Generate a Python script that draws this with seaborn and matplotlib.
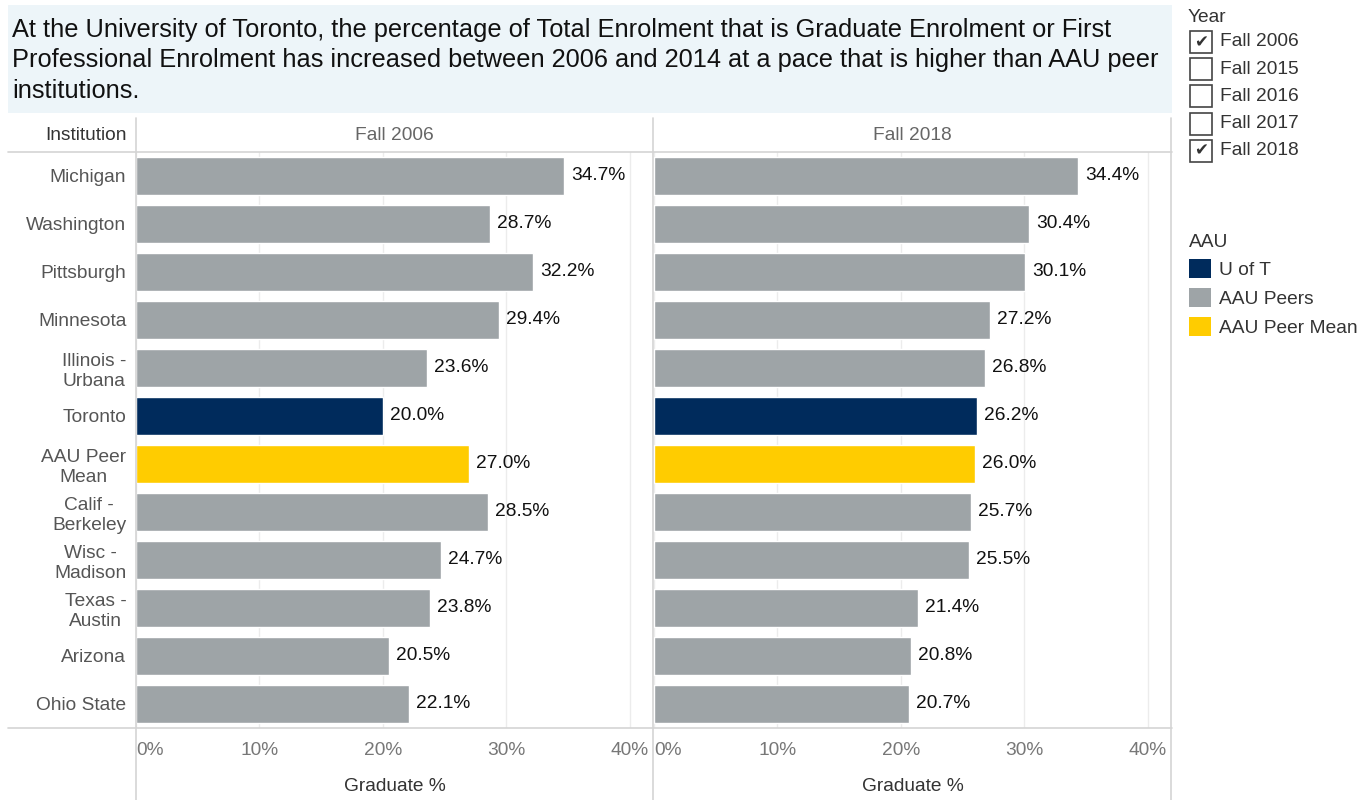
import pandas as pd
import matplotlib.pyplot as plt
import seaborn as sns
import matplotlib.ticker as mticker
from matplotlib.patches import Rectangle, Patch
from matplotlib.lines import Line2D

institutions = ["Michigan", "Washington", "Pittsburgh", "Minnesota", "Illinois -\nUrbana",
                "Toronto", "AAU Peer\nMean", "Calif -\nBerkeley", "Wisc -\nMadison",
                "Texas -\nAustin", "Arizona", "Ohio State"]
group = ["AAU Peers"] * 5 + ["U of T", "AAU Peer Mean"] + ["AAU Peers"] * 5
pct_2006 = [34.7, 28.7, 32.2, 29.4, 23.6, 20.0, 27.0, 28.5, 24.7, 23.8, 20.5, 22.1]
pct_2018 = [34.4, 30.4, 30.1, 27.2, 26.8, 26.2, 26.0, 25.7, 25.5, 21.4, 20.8, 20.7]
panels = ["Fall 2006", "Fall 2018"]
year_options = ["Fall 2006", "Fall 2015", "Fall 2016", "Fall 2017", "Fall 2018"]
year_checked = [True, False, False, False, True]
legend_items = ["U of T", "AAU Peers", "AAU Peer Mean"]
xticks = [0, 10, 20, 30, 40]

palette = {"U of T": "#002b5c", "AAU Peers": "#9ea4a7", "AAU Peer Mean": "#ffcc00"}
title = ("At the University of Toronto, the percentage of Total Enrolment that is Graduate Enrolment or First\n"
         "Professional Enrolment has increased between 2006 and 2014 at a pace that is higher than AAU peer\n"
         "institutions.")

sns.set_style("white")
plt.rcParams["font.family"] = ["Liberation Sans", "DejaVu Sans"]

W, H = 1363, 800
fs = 13.8
fig = plt.figure(figsize=(W / 100, H / 100), dpi=100)


def fx(px):
    return px / W


def fy(py):
    return 1 - py / H


# title box
fig.patches.append(Rectangle((fx(8), fy(113)), fx(1164), 108 / H, transform=fig.transFigure,
                             facecolor="#edf5f9", edgecolor="none", zorder=0))
fig.text(fx(12), fy(18), title, va="top", ha="left", fontsize=18.3, color="#111111", linespacing=1.34)

panel_left = [136, 654]
panel_w = 517
line_c = "#d4d4d4"

for i, (name, vals) in enumerate(zip(panels, [pct_2006, pct_2018])):
    df = pd.DataFrame({"Institution": institutions, "pct": vals, "group": group})
    ax = fig.add_axes([fx(panel_left[i]), fy(728), fx(panel_w), 576 / H])
    sns.barplot(data=df, y="Institution", x="pct", hue="group", palette=palette, dodge=False,
                order=institutions, width=0.79, saturation=1, legend=False, ax=ax, zorder=2)
    for c in ax.containers:
        ax.bar_label(c, fmt="%.1f%%", padding=5, fontsize=fs, color="#111111")
    ax.set_xlim(0, 41.9)
    ax.set_xticks(xticks)
    ax.xaxis.set_major_formatter(mticker.FuncFormatter(lambda v, p: f"{v:.0f}%"))
    ax.tick_params(axis="x", labelsize=fs, labelcolor="#777777", length=0, pad=10)
    ax.grid(axis="x", color="#ececec", linewidth=1, zorder=0)
    ax.set_axisbelow(True)
    ax.xaxis.get_majorticklabels()[0].set_horizontalalignment("left")
    ax.set_xlabel("Graduate %", fontsize=fs, color="#333333", labelpad=14)
    ax.set_ylabel("")
    if i == 0:
        ax.tick_params(axis="y", labelsize=fs, labelcolor="#555555", length=0, pad=7)
        for t in ax.get_yticklabels():
            t.set_multialignment("center")
    else:
        ax.set_yticklabels([])
        ax.tick_params(axis="y", length=0)
    sns.despine(ax=ax, left=True, bottom=True)
    fig.text(fx(panel_left[i] + panel_w / 2), fy(135), name, ha="center", va="center",
             fontsize=fs, color="#666666")

fig.text(fx(127), fy(135), "Institution", ha="right", va="center", fontsize=fs, color="#333333")

# frame lines
for yy in [152, 728]:
    fig.add_artist(Line2D([fx(8), fx(1172)], [fy(yy), fy(yy)], color=line_c, lw=1.2))
for xx in [136, 653, 1171]:
    fig.add_artist(Line2D([fx(xx), fx(xx)], [fy(118), fy(800)], color=line_c, lw=1.2))

# year filter
fig.text(fx(1188), fy(18), "Year", ha="left", va="center", fontsize=fs, color="#333333")
for k, (lab, chk) in enumerate(zip(year_options, year_checked)):
    yc = 42 + k * 27.2
    fig.patches.append(Rectangle((fx(1190), fy(yc + 11)), fx(22), 22 / H, transform=fig.transFigure,
                                 facecolor="white", edgecolor="#444444", lw=1.2))
    if chk:
        fig.text(fx(1201), fy(yc), "\u2714", ha="center", va="center", fontsize=12,
                 color="#333333", family="DejaVu Sans")
    fig.text(fx(1220), fy(yc), lab, ha="left", va="center", fontsize=fs, color="#333333")

# AAU legend
handles = [Patch(facecolor=palette[k], edgecolor="none") for k in legend_items]
leg = fig.legend(handles, legend_items, title="AAU", loc="upper left",
                 bbox_to_anchor=(fx(1181), fy(226)), frameon=False, fontsize=fs,
                 title_fontsize=fs, alignment="left", handlelength=1.15, handleheight=1.15,
                 labelspacing=0.45, handletextpad=0.45, borderaxespad=0)
for t in leg.get_texts():
    t.set_color("#333333")
leg.get_title().set_color("#333333")

fig.savefig("out.png", dpi=100)
